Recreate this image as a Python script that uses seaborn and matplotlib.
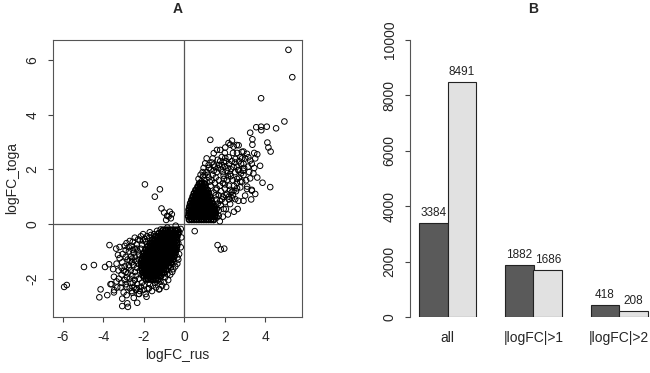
import matplotlib
matplotlib.use("Agg")
import matplotlib.pyplot as plt
import pandas as pd
import seaborn as sns

# ---- panel B: gene counts per threshold ----
groups = ["all", "|logFC|>1", "|logFC|>2"]
count_dark = [3384, 1882, 418]
count_light = [8491, 1686, 208]

# ---- panel A: logFC_rus vs logFC_toga ----
# dense cloud below zero, one row per logFC_toga level: (y, [x ...])
core_lo = [
    (-0.22, [-1.05, -0.93, -0.81, -0.69, -0.57, -0.45, -0.33]),
    (-0.34, [-1.26, -1.14, -1.02, -0.90, -0.78, -0.66, -0.54, -0.42, -0.31]),
    (-0.46, [-1.44, -1.32, -1.20, -1.08, -0.96, -0.84, -0.72, -0.60, -0.48, -0.36]),
    (-0.58, [-1.58, -1.46, -1.34, -1.22, -1.10, -0.98, -0.86, -0.74, -0.62, -0.50, -0.38]),
    (-0.70, [-1.70, -1.58, -1.46, -1.34, -1.22, -1.10, -0.98, -0.86, -0.74, -0.62, -0.50, -0.38]),
    (-0.82, [-1.82, -1.70, -1.58, -1.46, -1.34, -1.22, -1.10, -0.98, -0.86, -0.74, -0.62, -0.50, -0.38]),
    (-0.94, [-1.92, -1.80, -1.68, -1.56, -1.44, -1.32, -1.20, -1.08, -0.96, -0.84, -0.72, -0.60, -0.48, -0.40]),
    (-1.06, [-2.00, -1.88, -1.76, -1.64, -1.52, -1.40, -1.28, -1.16, -1.04, -0.92, -0.80, -0.68, -0.56, -0.45]),
    (-1.18, [-2.05, -1.93, -1.81, -1.69, -1.57, -1.45, -1.33, -1.21, -1.09, -0.97, -0.85, -0.73, -0.61, -0.50]),
    (-1.30, [-2.10, -1.98, -1.86, -1.74, -1.62, -1.50, -1.38, -1.26, -1.14, -1.02, -0.90, -0.78, -0.66, -0.56]),
    (-1.42, [-2.12, -2.00, -1.88, -1.76, -1.64, -1.52, -1.40, -1.28, -1.16, -1.04, -0.92, -0.80, -0.66]),
    (-1.54, [-2.12, -2.00, -1.88, -1.76, -1.64, -1.52, -1.40, -1.28, -1.16, -1.04, -0.92, -0.78]),
    (-1.66, [-2.10, -1.98, -1.86, -1.74, -1.62, -1.50, -1.38, -1.26, -1.14, -1.02, -0.90]),
    (-1.78, [-2.06, -1.94, -1.82, -1.70, -1.58, -1.46, -1.34, -1.22, -1.10, -1.00]),
    (-1.90, [-2.00, -1.88, -1.76, -1.64, -1.52, -1.40, -1.28, -1.16]),
    (-2.02, [-1.90, -1.78, -1.66, -1.54, -1.42, -1.30]),
]
# dense cloud above zero
core_hi = [
    (0.16, [0.24, 0.36, 0.48, 0.60, 0.72, 0.84, 0.96, 1.08, 1.20, 1.32, 1.44]),
    (0.28, [0.20, 0.32, 0.44, 0.56, 0.68, 0.80, 0.92, 1.04, 1.16, 1.28, 1.40, 1.52]),
    (0.40, [0.22, 0.34, 0.46, 0.58, 0.70, 0.82, 0.94, 1.06, 1.18, 1.30, 1.42, 1.54]),
    (0.52, [0.22, 0.34, 0.46, 0.58, 0.70, 0.82, 0.94, 1.06, 1.18, 1.30, 1.42, 1.52]),
    (0.64, [0.26, 0.38, 0.50, 0.62, 0.74, 0.86, 0.98, 1.10, 1.22, 1.34, 1.46]),
    (0.76, [0.30, 0.42, 0.54, 0.66, 0.78, 0.90, 1.02, 1.14, 1.26, 1.38]),
    (0.88, [0.36, 0.48, 0.60, 0.72, 0.84, 0.96, 1.08, 1.20, 1.32]),
    (1.00, [0.42, 0.54, 0.66, 0.78, 0.90, 1.02, 1.14, 1.26]),
    (1.12, [0.48, 0.60, 0.72, 0.84, 0.96, 1.08, 1.20]),
    (1.24, [0.56, 0.68, 0.80, 0.92, 1.04, 1.14]),
    (1.36, [0.66, 0.78, 0.90, 1.02]),
    (1.48, [0.74, 0.86, 0.98]),
]
# single circles around the two clouds
outer_hi = [
    (5.14, 6.37), (5.33, 5.37), (3.79, 4.60), (4.94, 3.75), (4.53, 3.50), (4.07, 3.56),
    (3.79, 3.56), (3.55, 3.54), (3.80, 3.43), (3.25, 3.34), (3.36, 3.10), (3.36, 2.90),
    (4.10, 2.98), (4.15, 2.80), (4.26, 2.65), (1.28, 3.08), (3.74, 2.13), (3.86, 1.51),
    (4.24, 1.35), (3.60, 1.70), (0.51, -0.26), (1.64, -0.77), (1.80, -0.93), (1.97, -0.90),
    (2.35, 3.05), (2.27, 2.90), (2.43, 2.83), (2.68, 2.88), (2.02, 2.80), (1.77, 2.71),
    (1.45, 2.59), (2.92, 2.65), (3.16, 2.44), (3.25, 2.32), (3.33, 2.20), (2.52, 2.38),
    (2.77, 2.44), (2.19, 2.44), (1.95, 2.26), (1.03, 2.22), (1.20, 2.16), (3.25, 1.67),
    (2.92, 1.79), (2.68, 1.98), (3.41, 1.85), (2.76, 1.55), (3.10, 1.37), (3.33, 1.25),
    (2.60, 1.31), (2.35, 1.18), (1.61, 2.71), (2.18, 2.96), (2.59, 2.89), (2.84, 2.64),
    (3.09, 2.57), (2.92, 2.20), (2.67, 1.96), (2.43, 2.08), (2.26, 1.83), (1.94, 1.77),
    (2.59, 1.51), (2.76, 1.34), (2.43, 1.22), (2.51, 0.91), (2.67, 0.85), (2.10, 1.10),
    (1.77, 0.85), (1.53, 0.66), (1.94, 0.55), (2.63, 0.55), (2.92, 0.85), (3.00, 1.04),
    (3.33, 1.22), (3.09, 1.28), (1.90, 0.27), (2.26, 0.73), (1.28, 0.37), (1.61, 0.24),
    (0.64, 1.20), (0.56, 1.07), (0.44, 0.83), (0.84, 1.56), (1.00, 1.80), (1.20, 2.05),
    (0.92, 1.74), (1.44, 2.17), (1.77, 2.30), (2.02, 2.42), (1.50, 1.50), (1.70, 1.60),
    (1.90, 1.50), (2.10, 1.60), (1.60, 1.30), (1.80, 1.20), (2.00, 1.30), (2.20, 1.40),
    (1.40, 1.80), (1.60, 1.90), (1.80, 2.00), (2.00, 2.10), (2.20, 2.20), (1.30, 2.00),
    (1.50, 2.10), (1.70, 2.15), (1.90, 1.90), (2.10, 1.95), (2.30, 2.00), (2.40, 1.60),
    (2.20, 1.00), (1.90, 1.00), (1.60, 0.90), (1.70, 0.50), (1.50, 0.40), (1.80, 0.70),
    (2.00, 0.80), (1.45, 1.15), (1.35, 1.60), (1.10, 1.90), (0.80, 1.80), (0.70, 1.65),
    (1.00, 1.60), (1.20, 1.70), (1.30, 1.40), (1.55, 1.05), (2.30, 1.75), (2.50, 1.90),
    (2.60, 2.10), (2.80, 2.20), (2.90, 1.95), (3.00, 2.40), (2.40, 2.60), (2.60, 2.60),
    (2.00, 2.60), (1.85, 2.45), (1.65, 2.35), (1.40, 2.40), (1.10, 2.40), (0.95, 2.05),
    (2.70, 1.70), (2.85, 1.55), (3.05, 1.60), (3.20, 1.90), (3.15, 2.10), (3.45, 2.05),
    (3.50, 2.40), (3.50, 1.10), (3.30, 0.90), (2.45, 0.45), (2.15, 0.35), (1.75, 0.10),
    (1.45, 0.15), (2.35, 0.95), (3.45, 2.60), (3.60, 2.55), (2.00, 1.45), (2.25, 1.25),
    (1.45, 0.55), (1.65, 0.75), (1.85, 0.90), (2.05, 1.05), (1.70, 1.05), (1.55, 1.25),
    (1.75, 1.40), (1.95, 1.65), (2.15, 1.75), (1.55, 1.70), (1.25, 1.55), (1.15, 1.80),
    (1.45, 1.95), (1.65, 2.05), (1.85, 2.15), (2.05, 2.30), (2.35, 2.30), (2.50, 2.25),
    (2.15, 2.05), (1.35, 2.25), (0.90, 1.90), (0.75, 1.45), (1.05, 1.45), (1.60, 0.55),
    (1.70, 0.30), (2.05, 0.55), (2.20, 0.90), (2.40, 1.05), (2.55, 1.20), (2.45, 1.40),
    (2.60, 1.65), (2.80, 1.85), (2.95, 2.05), (2.70, 2.30), (2.85, 2.40),
]
outer_lo = [
    (-5.94, -2.30), (-5.81, -2.23), (-4.96, -1.57), (-4.47, -1.50), (-4.14, -2.39),
    (-4.20, -2.68), (-3.81, -2.60), (-3.70, -0.77), (-3.92, -1.57), (-3.72, -1.47),
    (-3.52, -1.65), (-3.60, -2.20), (-3.47, -2.42), (-3.07, -3.00), (-2.79, -3.03),
    (-2.82, -2.90), (-3.07, -2.73), (-2.33, -2.88), (-2.50, -2.70), (-1.87, -2.66),
    (-2.26, -2.55), (-1.26, -2.39), (-1.18, -2.11), (-1.56, -2.04),
    (-1.95, 1.45), (-1.21, 1.27), (-1.46, 1.00), (-1.13, 0.57), (-1.00, 0.42),
    (-0.72, 0.45), (-0.85, 0.30), (-0.67, 0.21), (-0.62, 0.36), (-0.90, 0.15), (-0.78, 0.28),
    (-3.37, -0.90), (-3.20, -0.84), (-3.28, -1.13), (-2.86, -0.70), (-2.70, -0.62),
    (-2.45, -0.90), (-2.28, -0.56), (-2.04, -0.37), (-1.71, -0.30), (-3.48, -1.93),
    (-3.24, -2.00), (-3.65, -2.20), (-3.32, -2.32), (-3.00, -2.50), (-3.48, -2.50),
    (-2.58, -2.51), (-2.24, -2.56), (-1.91, -2.56), (-1.82, -2.38), (-1.40, -2.32),
    (-1.23, -2.38), (-1.32, -2.07), (-1.00, -2.13), (-0.84, -1.83), (-0.67, -1.59),
    (-0.34, -1.22), (-0.50, -1.40), (-3.15, -2.32), (-2.90, -2.20), (-2.66, -2.14),
    (-2.50, -2.32), (-2.33, -2.20), (-2.83, -1.95), (-2.58, -1.89), (-3.00, -1.71),
    (-2.74, -1.59), (-3.07, -1.40), (-2.90, -1.20), (-2.74, -1.00), (-2.58, -1.26),
    (-2.50, -1.50), (-2.24, -1.13), (-2.16, -0.90), (-1.91, -0.65), (-1.74, -0.50),
    (-1.50, -0.37), (-1.17, -0.20), (-0.84, -0.13), (-0.43, -0.06), (-0.18, -0.18),
    (-0.15, -0.49), (-0.18, -0.85), (-0.26, -1.10), (-2.07, -1.89), (-1.82, -2.00),
    (-2.80, -1.80), (-2.65, -1.70), (-2.45, -1.75), (-2.35, -1.60), (-2.60, -1.40),
    (-2.40, -1.35), (-2.30, -1.00), (-2.50, -1.05), (-2.65, -1.20), (-2.80, -1.30),
    (-2.95, -1.55), (-2.90, -0.95), (-2.60, -0.80), (-2.35, -0.75), (-2.20, -0.60),
    (-2.40, -1.90), (-2.25, -2.00), (-2.70, -2.00), (-2.95, -2.05), (-3.10, -1.85),
    (-3.10, -1.60), (-2.15, -2.30), (-2.00, -2.25), (-1.70, -2.20), (-1.55, -2.25),
    (-1.60, -2.45), (-2.00, -2.40), (-2.40, -2.40), (-2.70, -2.35), (-2.85, -2.60),
    (-2.55, -2.15), (-1.95, -0.55), (-1.65, -0.40), (-1.35, -0.25), (-2.10, -0.75),
    (-2.25, -1.30), (-2.30, -1.45), (-0.35, -1.45), (-0.55, -1.65), (-0.70, -1.85),
    (-0.95, -1.95), (-0.90, -2.30), (-0.30, -0.70), (-0.25, -0.30),
    (-3.20, -1.25), (-3.05, -1.10), (-2.95, -0.80), (-2.75, -0.85), (-2.55, -0.65),
    (-2.45, -0.50), (-2.15, -0.45), (-1.85, -0.45), (-2.05, -0.60), (-3.35, -1.45),
    (-3.25, -1.70), (-3.35, -2.10), (-3.10, -2.15), (-2.85, -2.30), (-2.60, -2.45),
    (-2.35, -2.35), (-2.20, -2.45), (-2.10, -2.15), (-2.45, -2.05), (-2.75, -1.50),
    (-2.90, -1.75), (-2.45, -1.20), (-2.35, -0.90), (-2.55, -0.95), (-2.70, -1.35),
    (-2.20, -1.70), (-1.75, -2.35), (-1.45, -2.15), (-1.10, -2.25), (-0.80, -2.05),
    (-0.60, -1.75), (-0.45, -1.55), (-0.30, -1.30),
]

core_rows = []
for y, xs in core_lo + core_hi:
    core_rows += [(x, y) for x in xs]
core = pd.DataFrame(core_rows, columns=["logFC_rus", "logFC_toga"])
outer = pd.DataFrame(outer_hi + outer_lo, columns=["logFC_rus", "logFC_toga"])

bars = pd.DataFrame({
    "group": groups * 2,
    "series": ["dark"] * 3 + ["light"] * 3,
    "count": count_dark + count_light,
})

sns.set_theme(style="ticks")
plt.rcParams["font.family"] = ["Liberation Sans", "DejaVu Sans"]
plt.rcParams["axes.unicode_minus"] = False

fig = plt.figure(figsize=(6.5, 3.73), dpi=100)
axA = fig.add_axes([53 / 650, 56 / 373, 249 / 650, 277 / 373])
axB = fig.add_axes([410 / 650, 56 / 373, 247 / 650, 277 / 373])

# A: scatter (heavier rings where the points pile up into a solid mass)
sns.scatterplot(data=core, x="logFC_rus", y="logFC_toga", ax=axA, s=16, color="black",
                facecolor="none", edgecolor="black", linewidth=1.25, legend=False)
sns.scatterplot(data=outer, x="logFC_rus", y="logFC_toga", ax=axA, s=16, color="black",
                facecolor="none", edgecolor="black", linewidth=0.7, legend=False)
axA.axhline(0, color="#555555", lw=0.9, zorder=0)
axA.axvline(0, color="#555555", lw=0.9, zorder=0)
axA.set_xlim(-6.49, 5.81)
axA.set_ylim(-3.40, 6.73)
axA.set_xticks([-6, -4, -2, 0, 2, 4])
axA.set_yticks([-2, 0, 2, 4, 6])
axA.tick_params(direction="out", length=3.6, width=0.8, color="#444444", labelsize=10, pad=6)
axA.tick_params(axis="y", labelrotation=90)
for t in axA.get_yticklabels():
    t.set_va("center")
for sp in axA.spines.values():
    sp.set_color("#555555")
    sp.set_linewidth(0.8)
axA.set_xlabel("logFC_rus", fontsize=10)
axA.xaxis.label.set_va("center")
axA.xaxis.set_label_coords(0.5, -38 / 277)
axA.set_ylabel("logFC_toga", fontsize=10)
axA.yaxis.label.set_va("center")
axA.yaxis.set_label_coords(-41 / 249, 0.5)
axA.text(0.5, 1 + 31 / 277, "A", transform=axA.transAxes, ha="center", va="center",
         fontsize=10, fontweight="bold")

# B: grouped bars
sns.barplot(data=bars, x="group", y="count", hue="series", ax=axB, width=2 / 3,
            palette=["#5a5a5a", "#e1e1e1"], saturation=1, edgecolor="#222222",
            linewidth=0.8, errorbar=None, legend=False)
for c in axB.containers:
    axB.bar_label(c, padding=3, fontsize=8.5, color="#222222")
axB.set_xlim(-0.44, 2.44)
axB.set_ylim(0, 10000)
axB.set_yticks(range(0, 10001, 2000))
axB.tick_params(axis="y", direction="out", length=3.6, width=0.8, color="#444444",
                labelsize=10, pad=6, labelrotation=90)
for t in axB.get_yticklabels():
    t.set_va("center")
axB.tick_params(axis="x", length=0, labelsize=10, pad=10)
for s in ["top", "right", "bottom"]:
    axB.spines[s].set_visible(False)
axB.spines["left"].set_color("#555555")
axB.spines["left"].set_linewidth(0.8)
axB.set_xlabel("")
axB.set_ylabel("")
axB.text(0.5, 1 + 31 / 277, "B", transform=axB.transAxes, ha="center", va="center",
         fontsize=10, fontweight="bold")

fig.savefig("out.png", dpi=100)
